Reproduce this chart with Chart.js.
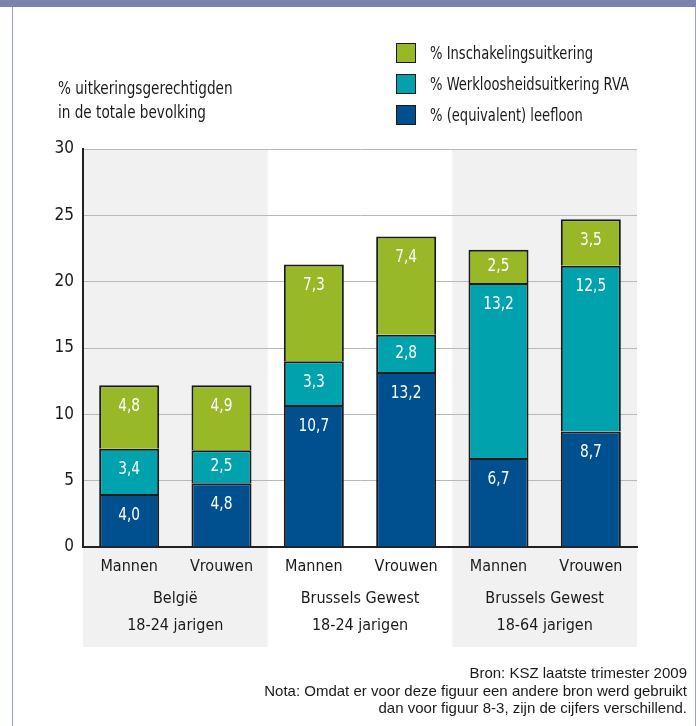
<!DOCTYPE html>
<html>
<head>
<meta charset="utf-8">
<script src="https://cdn.jsdelivr.net/npm/chart.js@4.4.0/dist/chart.umd.min.js"></script>
<style>
  body { margin: 0; background: #fff; }
  #wrap { position: relative; width: 696px; height: 726px; overflow: hidden;
          font-family: "DejaVu Sans Condensed", sans-serif; color: #1a1a1a; }
  #band { position: absolute; left: 0; top: 0; width: 696px; height: 7px; background: #7a82ae; }
  #frame { position: absolute; left: 12px; top: 0; width: 682px; height: 740px;
           border-left: 1px solid #9aa2cc; border-right: 1px solid #9aa2cc; }
  #chart { position: absolute; left: 0; top: 0; }
  #ytitle { position: absolute; left: 58px; top: 76px; font-size: 18px; line-height: 24px;
            white-space: nowrap; transform: scaleX(0.84); transform-origin: 0 0; }
  #legend { position: absolute; left: 396px; top: 0; font-size: 18px; }
  .row { position: absolute; left: 0; width: 280px; height: 22px; line-height: 22px; white-space: nowrap; }
  .sw { position: absolute; left: 0; top: 1px; width: 18px; height: 18px; border: 1px solid #1a1a1a; }
  .lt { position: absolute; left: 34px; top: 0; transform: scaleX(0.81); transform-origin: 0 0; }
  #foot { position: absolute; right: 9px; top: 664px; text-align: right; white-space: nowrap;
          font-family: "Liberation Sans", sans-serif; font-size: 15px; line-height: 17.5px; color: #1a1a1a; }
</style>
</head>
<body>
<div id="wrap">
  <div id="frame"></div>
  <div id="band"></div>
  <canvas id="chart" width="696" height="726"></canvas>
  <div id="ytitle">% uitkeringsgerechtigden<br>in de totale bevolking</div>
  <div id="legend"></div>
  <div id="foot">Bron: KSZ laatste trimester 2009<br>Nota: Omdat er voor deze figuur een andere bron werd gebruikt<br>dan voor figuur 8-3, zijn de cijfers verschillend.</div>
</div>
<script>
// categories
const categories = ['Mannen', 'Vrouwen', 'Mannen', 'Vrouwen', 'Mannen', 'Vrouwen'];
const groupLabels = [['België', '18-24 jarigen'], ['Brussels Gewest', '18-24 jarigen'], ['Brussels Gewest', '18-64 jarigen']];

// series values (%)
const leefloon = [4.0, 4.8, 10.7, 13.2, 6.7, 8.7];
const werkloosheid = [3.4, 2.5, 3.3, 2.8, 13.2, 12.5];
const inschakeling = [4.8, 4.9, 7.3, 7.4, 2.5, 3.5];

const yTicks = [0, 5, 10, 15, 20, 25, 30];

const FONT = '"DejaVu Sans Condensed", sans-serif';
const shaded = [0, 2];

const datasets = [
  { label: '% (equivalent) leefloon', data: leefloon, backgroundColor: '#00508f' },
  { label: '% Werkloosheidsuitkering RVA', data: werkloosheid, backgroundColor: '#00a3ad' },
  { label: '% Inschakelingsuitkering', data: inschakeling, backgroundColor: '#98b828' }
].map(d => Object.assign(d, { borderColor: '#1a1a1a', borderWidth: 2, barPercentage: 0.65, categoryPercentage: 1 }));

// gray bands behind the first and last group
const bandsPlugin = {
  id: 'bands',
  beforeDraw(chart) {
    const ca = chart.chartArea, ctx = chart.ctx;
    const w3 = (ca.right - ca.left) / 3;
    ctx.save();
    ctx.fillStyle = '#f1f1f1';
    shaded.forEach(g => ctx.fillRect(ca.left + g * w3, ca.top, w3, 647 - ca.top));
    ctx.restore();
  }
};

// white value labels near the top of each segment
const valuesPlugin = {
  id: 'values',
  afterDatasetsDraw(chart) {
    const ctx = chart.ctx;
    chart.data.datasets.forEach((ds, i) => {
      chart.getDatasetMeta(i).data.forEach((bar, j) => {
        const h = bar.base - bar.y;
        const y = bar.y + Math.min(21, h / 2);
        ctx.save();
        ctx.translate(bar.x, y);
        ctx.scale(0.85, 1);
        ctx.fillStyle = '#fff';
        ctx.font = '18px ' + FONT;
        ctx.textAlign = 'center';
        ctx.textBaseline = 'middle';
        ctx.fillText(ds.data[j].toFixed(1).replace('.', ','), 0, 0);
        ctx.restore();
      });
    });
  }
};

const chart = new Chart(document.getElementById('chart'), {
  type: 'bar',
  data: { labels: categories, datasets: datasets },
  options: {
    responsive: false,
    animation: false,
    layout: { padding: { top: 149, right: 59, bottom: 66, left: 0 } },
    plugins: { legend: { display: false }, tooltip: { enabled: false } },
    scales: {
      x: {
        stacked: true,
        grid: { display: false, drawTicks: false },
        border: { color: '#222', width: 2 },
        ticks: { color: '#1a1a1a', font: { family: FONT, size: 16 }, padding: 10 },
        afterFit: s => { s.height = 33; }
      },
      x2: {
        type: 'category',
        labels: groupLabels,
        position: 'bottom',
        offset: true,
        grid: { display: false, drawTicks: false },
        border: { display: false },
        ticks: { color: '#1a1a1a', font: { family: FONT, size: 16, lineHeight: 1.7 }, padding: 5 },
        afterFit: s => { s.height = 80; }
      },
      y: {
        stacked: true,
        min: 0,
        max: 30,
        afterBuildTicks: s => { s.ticks = yTicks.map(v => ({ value: v })); },
        grid: { color: '#b8b8b8', lineWidth: 1, drawTicks: false },
        border: { color: '#222', width: 2 },
        ticks: { color: '#1a1a1a', font: { family: FONT, size: 17 }, padding: 9 },
        afterFit: s => { s.width = 83; }
      }
    }
  },
  plugins: [bandsPlugin, valuesPlugin]
});

// legend, top entry = top of the stack
const legend = document.getElementById('legend');
const rowCenters = [53, 84, 115];
datasets.slice().reverse().forEach((d, i) => {
  const row = document.createElement('div');
  row.className = 'row';
  row.style.top = (rowCenters[i] - 11) + 'px';
  row.innerHTML = '<div class="sw" style="background:' + d.backgroundColor + '"></div><span class="lt">' + d.label + '</span>';
  legend.appendChild(row);
});
</script>
</body>
</html>
